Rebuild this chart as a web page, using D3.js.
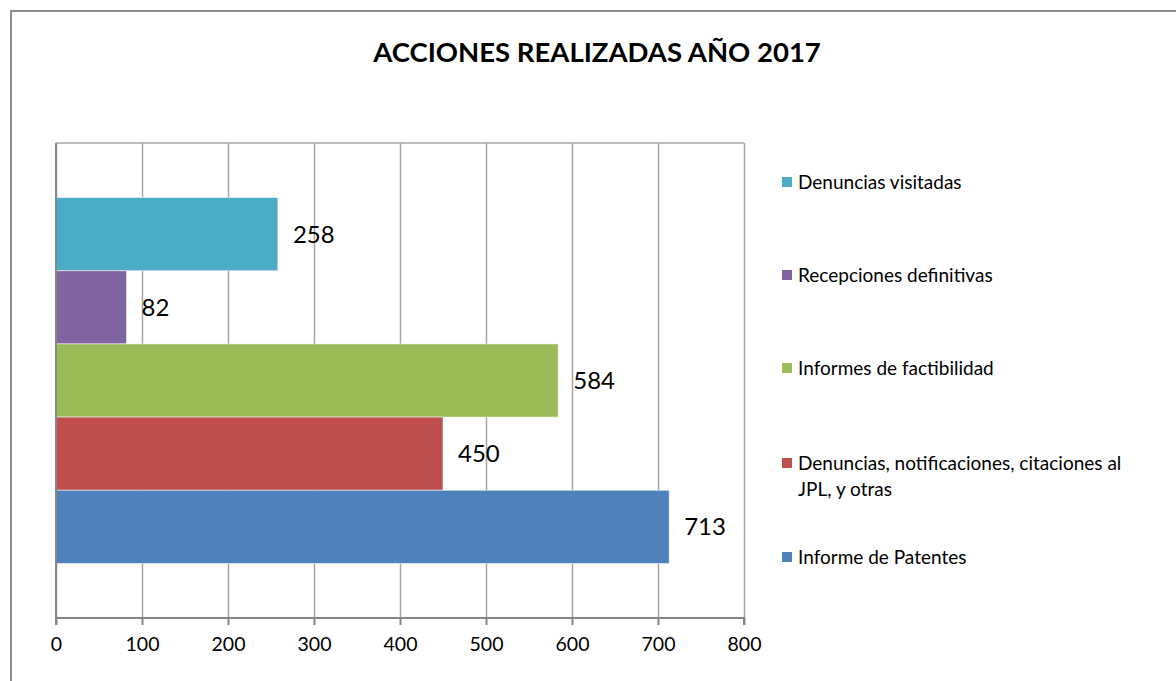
<!DOCTYPE html>
<html>
<head>
<meta charset="utf-8">
<script src="https://cdn.jsdelivr.net/npm/d3@7"></script>
<style>
  body { margin: 0; background: #fff; }
  svg { display: block; }
  text { font-family: Lato, "Open Sans", sans-serif; fill: #000; }
</style>
</head>
<body>
<div id="chart"></div>
<script>
// series, top to bottom as drawn
const series = [
    'Denuncias visitadas',
    'Recepciones definitivas',
    'Informes de factibilidad',
    'Denuncias, notificaciones, citaciones al JPL, y otras',
    'Informe de Patentes'
];
const values = [258, 82, 584, 450, 713];
const colors = ['#4BACC6', '#8064A2', '#9BBB59', '#C0504D', '#4F81BD'];
const legendLines = [
    ['Denuncias visitadas'],
    ['Recepciones definitivas'],
    ['Informes de factibilidad'],
    ['Denuncias, notificaciones, citaciones al', 'JPL, y otras'],
    ['Informe de Patentes']
];
const xTicks = [0, 100, 200, 300, 400, 500, 600, 700, 800];
const title = 'ACCIONES REALIZADAS AÑO 2017';

const svgWidth = 1176, svgHeight = 681;
const margin = { top: 143, left: 56 };
const width = 688, height = 475;

const svg = d3.select('#chart').append('svg')
    .attr('width', svgWidth)
    .attr('height', svgHeight);

// outer chart frame (runs off the page on the right and bottom)
svg.append('rect')
    .attr('x', 11).attr('y', 11)
    .attr('width', 1200).attr('height', 700)
    .attr('fill', '#fff')
    .attr('stroke', '#8c8c8c')
    .attr('stroke-width', 2);

svg.append('text')
    .attr('x', 597).attr('y', 62)
    .attr('text-anchor', 'middle')
    .style('font-size', '27.5px')
    .style('font-weight', 'bold')
    .text(title);

const g = svg.append('g')
    .attr('transform', 'translate(' + margin.left + ',' + margin.top + ')');

const x = d3.scaleLinear().domain([0, 800]).range([0, width]);
const y = d3.scaleBand().domain(series).range([0, height])
    .paddingInner(0).paddingOuter(0.745);

// gridlines
g.append('g')
    .attr('class', 'grid')
    .call(d3.axisTop(x).tickValues(xTicks).tickSize(-height).tickFormat(''))
    .call(s => s.select('.domain').remove())
    .call(s => s.selectAll('line').attr('stroke', '#a6a6a6').attr('stroke-width', 1.5));

// plot top border
g.append('line')
    .attr('x1', 0).attr('x2', width).attr('y1', 0).attr('y2', 0)
    .attr('stroke', '#a6a6a6').attr('stroke-width', 1.5);

g.selectAll('.bar')
    .data(series)
    .enter().append('rect')
    .attr('class', 'bar')
    .attr('x', 0)
    .attr('y', d => y(d))
    .attr('height', y.bandwidth())
    .attr('width', (d, i) => x(values[i]))
    .attr('fill', (d, i) => colors[i])
    .attr('stroke', '#ffffff')
    .attr('stroke-opacity', 0.5)
    .attr('stroke-width', 1);

g.selectAll('.lbl')
    .data(series)
    .enter().append('text')
    .attr('class', 'lbl')
    .attr('x', (d, i) => x(values[i]) + 15)
    .attr('y', d => y(d) + y.bandwidth() / 2)
    .attr('dy', '0.35em')
    .style('font-size', '24px')
    .text((d, i) => values[i]);

// x axis
const xAxis = g.append('g')
    .attr('transform', 'translate(0,' + height + ')')
    .call(d3.axisBottom(x).tickValues(xTicks).tickSize(7).tickPadding(12));
xAxis.select('.domain').attr('stroke', '#868686').attr('stroke-width', 2)
    .attr('d', 'M0,7V0H' + width + 'V7');
xAxis.selectAll('line').attr('stroke', '#868686').attr('stroke-width', 2);
xAxis.selectAll('text').style('font-size', '19.5px').style('font-family', 'Lato, sans-serif').attr('fill', '#000');

// y axis line
g.append('line')
    .attr('x1', 0).attr('x2', 0).attr('y1', 0).attr('y2', height)
    .attr('stroke', '#868686').attr('stroke-width', 2);

// legend
const legendY = [182, 275, 368, 463, 557];
const legend = svg.append('g').attr('class', 'legend');
legendLines.forEach((lines, i) => {
    const item = legend.append('g')
        .attr('transform', 'translate(782,' + legendY[i] + ')');
    item.append('rect')
        .attr('x', 0).attr('y', -5)
        .attr('width', 10).attr('height', 10)
        .attr('fill', colors[i]);
    item.selectAll('text')
        .data(lines)
        .enter().append('text')
        .attr('x', 16)
        .attr('y', (d, j) => j * 26)
        .attr('dy', '0.35em')
        .style('font-size', '19px')
        .attr('fill', '#1a1a1a')
        .text(d => d);
});
</script>
</body>
</html>
